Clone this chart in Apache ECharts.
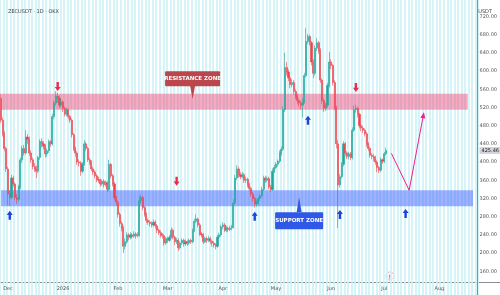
<!DOCTYPE html>
<html>
<head>
<meta charset="utf-8">
<title>ZECUSDT 1D</title>
<script src="https://cdn.jsdelivr.net/npm/echarts@6.0.0/dist/echarts.min.js"></script>
<style>
  html, body { margin: 0; padding: 0; background: #fff; }
  #main { width: 500px; height: 295px; }
</style>
</head>
<body>
<div id="main"></div>
<script>
// 日线数据，从 2025-11-27 开始，每天一根 [开, 收, 低, 高]
var startDate = '2025-11-27';
var dayCount = 269; // x轴一直画到 8 月下旬
var ohlc = [
  [540,492,486,550],[492,462,456,498],[462,430,424,468],[430,385,378,434],[385,330,305,390],
  [330,322,303,338],[322,365,318,372],[365,352,346,370],[352,322,316,356],[322,318,308,330],
  [318,345,314,350],[345,405,340,410],[405,430,398,436],[430,420,414,438],[420,455,416,470],
  [455,450,440,462],[450,420,414,456],[420,405,398,426],[405,390,384,410],[390,385,378,398],
  [385,380,365,392],[380,410,376,414],[410,445,405,450],[445,440,432,452],[440,435,428,446],
  [435,418,410,440],[418,425,412,430],[425,445,420,450],[445,440,434,448],[440,500,436,506],
  [500,530,494,536],[530,545,524,556],[545,540,530,552],[540,525,518,546],[525,532,520,540],
  [532,518,510,536],[518,505,500,522],[505,515,500,520],[515,500,494,518],[500,492,486,504],
  [492,460,454,496],[460,430,424,464],[430,420,412,434],[420,400,394,424],[400,398,390,406],
  [398,380,370,402],[380,395,376,400],[395,440,392,448],[440,430,424,444],[430,405,400,434],
  [405,400,394,410],[400,385,380,404],[385,378,372,390],[378,370,364,382],[370,362,356,374],
  [362,360,354,368],[360,352,346,364],[352,358,348,362],[358,350,344,362],[350,355,346,360],
  [355,340,334,358],[340,395,336,405],[395,370,364,398],[370,352,346,374],[352,322,316,356],
  [322,312,304,326],[312,285,278,316],[285,265,258,290],[265,255,248,270],[255,215,200,260],
  [215,225,208,232],[225,240,220,246],[240,235,228,244],[235,240,230,246],[240,237,232,244],
  [237,242,233,248],[242,238,232,246],[238,240,234,246],[240,315,236,325],[315,322,308,328],
  [322,300,294,326],[300,285,280,304],[285,272,266,290],[272,268,262,276],[268,265,258,272],
  [265,262,256,270],[262,268,258,274],[268,260,254,272],[260,250,244,264],[250,245,240,254],
  [245,240,234,250],[240,238,232,244],[238,222,216,242],[222,232,218,236],[232,228,222,236],
  [228,235,224,240],[235,250,232,256],[250,235,230,254],[235,225,218,238],[225,228,220,234],
  [228,212,205,232],[212,222,208,226],[222,228,218,232],[228,220,214,232],[220,225,216,230],
  [225,222,216,228],[222,228,218,232],[228,225,220,232],[225,250,222,254],[250,270,246,276],
  [270,275,266,285],[275,262,256,278],[262,242,238,266],[242,240,234,246],[240,225,220,244],
  [225,232,222,236],[232,228,222,236],[228,232,224,238],[232,226,220,236],[226,222,214,230],
  [222,218,212,226],[218,215,208,222],[215,235,212,240],[235,240,230,245],[240,258,236,262],
  [258,262,252,268],[262,250,246,266],[250,255,246,260],[255,252,246,258],[252,255,248,260],
  [255,258,250,262],[258,310,254,318],[310,365,306,372],[365,385,360,393],[385,372,366,390],
  [372,368,362,378],[368,372,364,378],[372,360,354,376],[360,362,354,368],[362,350,344,366],
  [350,342,336,354],[342,330,324,346],[330,320,312,334],[320,308,300,324],[308,312,302,318],
  [312,320,306,324],[320,326,314,330],[326,340,322,346],[340,365,336,370],[365,360,354,370],
  [360,364,356,368],[364,345,340,368],[345,340,335,350],[340,380,336,386],[380,388,376,394],
  [388,395,384,400],[395,402,390,406],[402,420,398,426],[420,428,414,434],[428,515,424,522],
  [515,608,510,640],[608,598,590,620],[598,585,578,604],[585,570,562,590],[570,575,564,582],
  [575,555,548,580],[555,545,538,560],[545,535,528,550],[535,530,522,540],[530,525,515,535],
  [525,532,498,540],[532,590,528,596],[590,665,586,694],[665,676,658,682],[676,662,656,680],
  [662,620,612,666],[620,595,585,626],[595,650,590,656],[650,662,644,672],[662,645,638,666],
  [645,580,574,650],[580,535,528,584],[535,518,510,540],[518,525,512,530],[525,568,520,574],
  [568,620,564,642],[620,612,604,626],[612,575,568,616],[575,520,514,580],[520,440,430,524],
  [440,350,255,448],[350,368,344,374],[368,395,364,400],[395,440,390,446],[440,420,414,444],
  [420,412,406,424],[412,418,406,422],[418,410,404,422],[410,470,406,476],[470,515,466,524],
  [515,518,508,526],[518,505,498,522],[505,480,474,508],[480,475,468,484],[475,470,464,480],
  [470,462,456,474],[462,440,434,466],[440,430,424,444],[430,415,410,434],[415,412,406,420],
  [412,410,402,418],[410,400,394,414],[400,388,378,404],[388,382,376,392],[382,405,378,410],
  [405,402,396,408],[402,418,398,422],[418,425.46,414,432]
];
var lastPrice = 425.46;

// 阻力区、支撑区 [下沿, 上沿]，以及区域结束的那一天
var resistanceZone = [515, 550];
var supportZone = [303, 338];
var resistanceEnd = 263;
var supportEnd = 266;

// 箭头标记 [第几天, 价格]
var sellArrows = [[32, 566], [99, 358], [200, 564]];
var buyArrows = [[5, 283], [143, 281], [173, 492], [191, 285], [228, 287]];

// 预测走势（粉色折线）[第几天, 价格]
var projection = [[220, 419], [230, 338], [238, 503]];

// 文字标签的位置
var resistanceLabel = [108, 583];
var resistanceTail = [108, 553];
var supportLabel = [168, 271];
var supportTail = [168, 306];

var monthNames = ['Jan','Feb','Mar','Apr','May','Jun','Jul','Aug','Sep','Oct','Nov','Dec'];

// 生成日期类目
var cats = [];
var d0 = new Date(startDate + 'T00:00:00Z');
for (var i = 0; i < dayCount; i++) {
  var d = new Date(d0.getTime() + i * 86400000);
  cats.push(d.toISOString().slice(0, 10));
}

var upColor = '#22a69a';
var downColor = '#f0434f';
var downArrow = 'path://M3,0H7V6H10L5,11L0,6H3Z';
var upArrow = 'path://M5,0L10,5H7V11H3V5H0Z';
// 小圆角的矩形，做文字标签的底
var labelBox = 'path://M1,0H49A1,1,0,0,1,50,1V14A1,1,0,0,1,49,15H1A1,1,0,0,1,0,14V1A1,1,0,0,1,1,0Z';

var marks = [];
sellArrows.forEach(function (a) {
  marks.push({ coord: [cats[a[0]], a[1]], symbol: downArrow, symbolSize: [6, 9],
    itemStyle: { color: '#ef2b4a' }, label: { show: false } });
});
buyArrows.forEach(function (a) {
  marks.push({ coord: [cats[a[0]], a[1]], symbol: upArrow, symbolSize: [6, 9],
    itemStyle: { color: '#1d45d6' }, label: { show: false } });
});
// 标签尾巴
marks.push({ coord: [cats[resistanceTail[0]], resistanceTail[1]], symbol: 'triangle', symbolRotate: 180,
  symbolSize: [5, 13], itemStyle: { color: '#b9474d' }, label: { show: false } });
marks.push({ coord: [cats[supportTail[0]], supportTail[1]], symbol: 'triangle',
  symbolSize: [5, 15], itemStyle: { color: '#3058e6' }, label: { show: false } });
// 标签本身
marks.push({ coord: [cats[resistanceLabel[0]], resistanceLabel[1]], symbol: labelBox, symbolSize: [55, 15],
  symbolKeepAspect: false,
  itemStyle: { color: '#b9474d' },
  label: { show: true, position: 'inside', formatter: 'RESISTANCE ZONE', color: '#fff',
    fontSize: 5.5, fontWeight: 'bold', fontFamily: 'DejaVu Sans' } });
marks.push({ coord: [cats[supportLabel[0]], supportLabel[1]], symbol: labelBox, symbolSize: [48, 17],
  symbolKeepAspect: false,
  itemStyle: { color: '#3058e6' },
  label: { show: true, position: 'inside', formatter: 'SUPPORT ZONE', color: '#fff',
    fontSize: 5.5, fontWeight: 'bold', fontFamily: 'DejaVu Sans' } });

var option = {
  backgroundColor: '#ffffff',
  animation: false,
  title: [
    { text: 'ZECUSDT · 1D · OKX', left: 3, top: 4,
      textStyle: { fontSize: 5, color: '#444', fontWeight: 'normal', fontFamily: 'DejaVu Sans' } },
    { text: 'USDT', right: 3, top: 4,
      textStyle: { fontSize: 5, color: '#444', fontWeight: 'normal', fontFamily: 'DejaVu Sans' } }
  ],
  grid: { left: 0, right: 18, top: 0, bottom: 0 },
  xAxis: {
    type: 'category',
    data: cats,
    boundaryGap: true,
    axisLine: { show: false },
    axisTick: { show: false },
    axisLabel: {
      inside: true,
      margin: 4,
      fontSize: 5,
      color: '#555',
      fontFamily: 'DejaVu Sans',
      interval: function (idx, val) { return val.slice(8, 10) === '01'; },
      formatter: function (val) {
        var m = parseInt(val.slice(5, 7), 10);
        return m === 1 ? val.slice(0, 4) : monthNames[m - 1];
      }
    },
    // 背景上的竖条纹
    splitLine: {
      show: true,
      interval: function (idx) { return idx % 2 === 0; },
      lineStyle: { color: '#cdf3f6', width: 1.7 }
    }
  },
  yAxis: {
    type: 'value',
    position: 'right',
    min: 108,
    max: 756,
    interval: 4,
    scale: true,
    axisLine: { show: true, lineStyle: { color: '#8a8d94', width: 1 } },
    axisTick: { show: false },
    splitLine: { show: false },
    axisLabel: {
      margin: 2,
      fontSize: 5,
      color: '#555',
      fontFamily: 'DejaVu Sans',
      // 只标 40 的倍数，底线以下的不标
      formatter: function (v) { return (v % 40 === 0 && v >= 150) ? v.toFixed(2) : ''; }
    }
  },
  series: [
    {
      name: 'ZECUSDT',
      type: 'candlestick',
      data: ohlc,
      barWidth: 1.6,
      itemStyle: {
        color: upColor, color0: downColor,
        borderColor: upColor, borderColor0: downColor, borderWidth: 0.6
      },
      markArea: {
        silent: true,
        data: [
          [{ xAxis: cats[0], yAxis: resistanceZone[0], itemStyle: { color: 'rgba(240,90,135,0.52)' } },
           { xAxis: cats[resistanceEnd], yAxis: resistanceZone[1] }],
          [{ xAxis: cats[0], yAxis: supportZone[0], itemStyle: { color: 'rgba(70,105,255,0.52)' } },
           { xAxis: cats[supportEnd], yAxis: supportZone[1] }]
        ]
      },
      markLine: {
        silent: true,
        symbol: 'none',
        lineStyle: { color: 'transparent' },
        label: {
          position: 'end', distance: 2, formatter: lastPrice.toFixed(2),
          backgroundColor: '#d4d5d9', color: '#222', fontSize: 5, padding: [1, 2],
          fontFamily: 'DejaVu Sans'
        },
        data: [{ yAxis: lastPrice }]
      },
      markPoint: { silent: true, data: marks }
    },
    {
      name: 'projection',
      type: 'line',
      data: projection,
      symbol: 'none',
      lineStyle: { color: '#ee1f8f', width: 1 },
      markPoint: {
        silent: true,
        data: [{ coord: projection[2], symbol: 'triangle', symbolRotate: -11, symbolSize: [5, 6],
          itemStyle: { color: '#ee1f8f' }, label: { show: false } }]
      }
    }
  ],
  graphic: [
    // 底部横线，贯穿整宽
    { type: 'line', shape: { x1: 0, y1: 282.5, x2: 500, y2: 282.5 },
      style: { stroke: '#8a8d94', lineWidth: 1 }, silent: true },
    // 事件小图标
    { type: 'circle', shape: { cx: 390, cy: 276, r: 4 },
      style: { fill: '#fff', stroke: '#d81b60', lineWidth: 0.7, lineDash: [1, 1] }, silent: true },
    { type: 'polyline', shape: { points: [[391, 273], [389, 276.5], [391, 276], [389, 279]] },
      style: { stroke: '#d81b60', lineWidth: 0.6, fill: null }, silent: true }
  ]
};

var myChart = echarts.init(document.getElementById('main'));
myChart.setOption(option);
</script>
</body>
</html>
